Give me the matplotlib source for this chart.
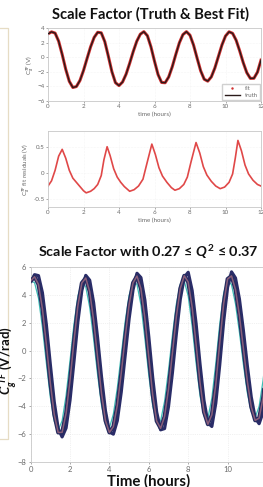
import matplotlib
matplotlib.use("Agg")
import matplotlib.pyplot as plt
from matplotlib.lines import Line2D

plt.rcParams['font.family'] = ['Lato', 'DejaVu Sans']
plt.rcParams['mathtext.fontset'] = 'custom'
plt.rcParams['mathtext.it'] = 'Lato:italic:bold'
plt.rcParams['mathtext.rm'] = 'Lato:bold'
plt.rcParams['mathtext.bf'] = 'Lato:bold'

# ---------------- data ----------------
time_hours = [0.0, 0.2, 0.4, 0.6, 0.8, 1.0, 1.2, 1.4, 1.6, 1.8, 2.0, 2.2, 2.4, 2.6, 2.8,
              3.0, 3.2, 3.4, 3.6, 3.8, 4.0, 4.2, 4.4, 4.6, 4.8, 5.0, 5.2, 5.4, 5.6, 5.8,
              6.0, 6.2, 6.4, 6.6, 6.8, 7.0, 7.2, 7.4, 7.6, 7.8, 8.0, 8.2, 8.4, 8.6, 8.8,
              9.0, 9.2, 9.4, 9.6, 9.8, 10.0, 10.2, 10.4, 10.6, 10.8, 11.0, 11.2, 11.4,
              11.6, 11.8, 12.0]

truth_values = [3.20, 3.47, 3.30, 2.19, 0.37, -1.66, -3.31, -4.15, -4.02, -3.19, -1.82,
                -0.18, 1.42, 2.71, 3.41, 3.34, 2.13, 0.13, -1.98, -3.49, -3.89, -3.40,
                -2.32, -0.84, 0.76, 2.18, 3.15, 3.50, 2.94, 1.42, -0.55, -2.38, -3.46,
                -3.50, -2.71, -1.31, 0.38, 1.97, 3.09, 3.50, 3.01, 1.66, -0.13, -1.86,
                -3.02, -3.28, -2.70, -1.48, 0.10, 1.68, 2.90, 3.48, 3.27, 2.32, 0.86,
                -0.75, -2.12, -2.90, -2.89, -2.05, -0.40]
fit_values = truth_values

resid_time = [0.0, 0.2, 0.4, 0.6, 0.8, 1.0, 1.2, 1.4, 1.6, 1.8, 2.0, 2.15, 2.4, 2.6, 2.8,
              3.0, 3.15, 3.33, 3.5, 3.7, 3.9, 4.1, 4.3, 4.6, 4.85, 5.1, 5.35, 5.55, 5.85,
              6.05, 6.25, 6.45, 6.7, 6.95, 7.15, 7.4, 7.65, 7.85, 8.05, 8.34, 8.55, 8.75,
              8.95, 9.2, 9.45, 9.7, 9.95, 10.2, 10.4, 10.55, 10.7, 10.9, 11.1, 11.3,
              11.55, 11.8, 12.0]
resid_values = [-0.25, -0.15, 0.05, 0.32, 0.45, 0.28, 0.05, -0.10, -0.18, -0.26, -0.34,
                -0.38, -0.35, -0.30, -0.22, -0.05, 0.25, 0.50, 0.33, 0.08, -0.08, -0.18,
                -0.26, -0.35, -0.32, -0.25, -0.12, 0.15, 0.55, 0.35, 0.10, -0.06, -0.18,
                -0.28, -0.33, -0.30, -0.22, -0.08, 0.20, 0.58, 0.38, 0.12, -0.04, -0.16,
                -0.25, -0.30, -0.27, -0.18, -0.02, 0.28, 0.62, 0.42, 0.15, -0.02, -0.14,
                -0.22, -0.25]

# band of scale-factor curves for 0.27 <= Q^2 <= 0.37 (leading/low, middle, lagging/high)
band_low = [5.00, 4.88, 3.76, 1.68, -0.89, -3.34, -5.07, -5.72, -5.04, -3.24, -0.73, 1.87,
            3.91, 4.95, 4.58, 3.11, 0.83, -1.72, -3.93, -5.30, -5.55, -4.57, -2.71, -0.33,
            2.07, 3.96, 4.96, 4.75, 3.29, 0.89, -1.78, -4.01, -5.16, -5.05, -3.65, -1.43,
            1.11, 3.36, 4.77, 5.00, 3.91, 1.76, -0.88, -3.25, -4.70, -4.85, -3.42, -0.93,
            1.89, 4.12, 5.09, 4.72, 3.36, 1.32, -0.97, -3.02, -4.39, -4.80, -4.01, -2.14,
            0.32]
band_mid = [5.00, 5.30, 4.75, 3.00, 0.46, -2.29, -4.58, -5.88, -5.87, -4.52, -2.15, 0.66,
            3.20, 4.85, 5.21, 4.23, 2.18, -0.46, -3.07, -5.03, -5.88, -5.47, -3.94, -1.64,
            0.96, 3.29, 4.86, 5.35, 4.45, 2.32, -0.49, -3.19, -5.06, -5.58, -4.74, -2.77,
            -0.17, 2.45, 4.46, 5.37, 4.92, 3.13, 0.48, -2.29, -4.40, -5.29, -4.61, -2.44,
            0.53, 3.36, 5.14, 5.36, 4.38, 2.53, 0.18, -2.18, -4.04, -5.01, -4.85, -3.40,
            -1.01]
band_high = [4.90, 5.45, 5.38, 4.15, 1.85, -0.98, -3.68, -5.60, -6.20, -5.56, -3.57, -0.80,
             2.07, 4.31, 5.40, 5.05, 3.43, 0.92, -1.89, -4.33, -5.84, -6.00, -5.04, -2.99,
             -0.36, 2.28, 4.37, 5.55, 5.24, 3.63, 0.98, -1.97, -4.42, -5.69, -5.60, -4.02,
             -1.57, 1.22, 3.70, 5.26, 5.62, 4.31, 1.94, -0.97, -3.58, -5.19, -5.45, -3.78,
             -1.03, 2.09, 4.55, 5.65, 5.21, 3.70, 1.46, -1.07, -3.33, -4.85, -5.25, -4.42,
             -2.36]

x_ticks = [0, 2, 4, 6, 8, 10, 12]

# ---------------- figure ----------------
W, H = 263, 487
fig = plt.figure(figsize=(W / 100, H / 100), dpi=100)
fig.patch.set_facecolor('white')

def box(l, t, r, b):
    return [l / W, 1 - b / H, (r - l) / W, (b - t) / H]

tick_col = '#6a6a6a'
spine_col = '#c8c8c8'

def style_small(ax):
    for s in ax.spines.values():
        s.set_color(spine_col)
        s.set_linewidth(0.6)
    ax.tick_params(labelsize=4.5, colors=tick_col, length=1.5, width=0.4, pad=1)
    ax.grid(True, color='#ececec', linewidth=0.4, linestyle=':')
    ax.set_axisbelow(True)

# Panel 1
ax1 = fig.add_axes(box(48, 28, 261, 101))
ax1.plot(time_hours, fit_values, color='#d03030', lw=2.2, label='fit', zorder=2)
ax1.plot(time_hours, truth_values, color='#2a1a1a', lw=1.0, label='truth', zorder=3)
ax1.set_xlim(0, 12)
ax1.set_ylim(-6, 4)
ax1.set_xticks(x_ticks)
ax1.set_yticks([-6, -4, -2, 0, 2, 4])
style_small(ax1)
ax1.set_xlabel('time (hours)', fontsize=4.5, color=tick_col, labelpad=1.5)
ax1.set_ylabel(r'C$_g^{TF}$ (V)', fontsize=4.5, color=tick_col, labelpad=1)
leg_handles = [Line2D([0], [0], color='#d03030', marker='.', ls='none', ms=1.5),
               Line2D([0], [0], color='#2a1a1a', lw=1.0)]
ax1.legend(leg_handles, ['fit', 'truth'], loc='lower right', fontsize=4.3,
           frameon=True, framealpha=1, edgecolor='#d0d0d0', borderpad=0.35,
           handlelength=2.6, labelspacing=0.25, borderaxespad=0.15, labelcolor=tick_col,
           fancybox=False)
fig.text(150 / W, 1 - 14 / H, 'Scale Factor (Truth & Best Fit)', ha='center', va='center',
         fontsize=10.6, fontweight='bold', color='#111111')

# Panel 2
ax2 = fig.add_axes(box(48, 131, 261, 207))
ax2.plot(resid_time, resid_values, color='#e04848', lw=1.2)
ax2.set_xlim(0, 12)
ax2.set_ylim(-0.65, 0.8)
ax2.set_xticks(x_ticks)
ax2.set_yticks([-0.5, 0, 0.5])
ax2.set_yticklabels(['-0.5', '0', '0.5'])
style_small(ax2)
ax2.set_xlabel('time (hours)', fontsize=4.5, color=tick_col, labelpad=1.5)
ax2.set_ylabel(r'C$_g^{TF}$ fit residuals (V)', fontsize=4.5, color=tick_col, labelpad=1)

# Panel 3
ax3 = fig.add_axes(box(30.6, 267, 267, 462))
ax3.plot(time_hours, band_low, color='#3cbdb4', lw=0.9, zorder=1)
ax3.plot(time_hours, band_high, color='#2a2c68', lw=2.3, zorder=2)
ax3.plot(time_hours, band_mid, color='#262c60', lw=2.9, zorder=3)
ax3.plot(time_hours, band_mid, color='#8a5e7a', lw=1.1, zorder=4)
ax3.set_xlim(0, 12)
ax3.set_ylim(-8, 6)
ax3.set_xticks(x_ticks)
ax3.set_yticks([-8, -6, -4, -2, 0, 2, 4, 6])
for s in ax3.spines.values():
    s.set_color(spine_col)
    s.set_linewidth(0.6)
ax3.tick_params(labelsize=5.5, colors=tick_col, length=1.5, width=0.4, pad=1.5)
ax3.grid(True, color='#e4e4e4', linewidth=0.5, linestyle=':')
ax3.set_axisbelow(True)
ax3.set_xlabel('Time (hours)', fontsize=10.8, fontweight='bold', color='#111111', labelpad=0.5)
ax3.set_ylabel(r'$C_g^{\ TF}$ (V/rad)', fontsize=9.5, fontweight='bold', color='#111111')
ax3.yaxis.set_label_coords(-0.05, 0.52)
fig.text(148 / W, 1 - 252 / H, r'Scale Factor with 0.27 ≤ $Q^2$ ≤ 0.37', ha='center',
         va='center', fontsize=10.4, fontweight='bold', color='#111111')

# slide frame on the left
frame_col = '#e6dcc4'
fig.add_artist(Line2D([0, 8 / W, 8 / W, 0], [1 - 28 / H, 1 - 28 / H, 1 - 439 / H, 1 - 439 / H],
                      color=frame_col, lw=0.9, transform=fig.transFigure, zorder=0))

fig.savefig('out.png', dpi=100)
